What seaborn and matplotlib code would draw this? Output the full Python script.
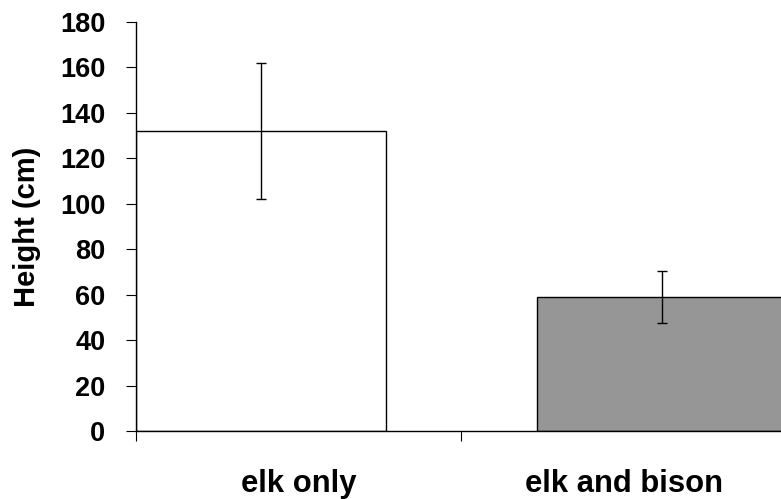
import matplotlib
matplotlib.use("Agg")
import matplotlib.pyplot as plt
import seaborn as sns
import pandas as pd

# Mean height per browsing treatment, with error half-widths
groups = ["elk only", "elk and bison"]
height_cm = [132, 59]
height_err = [30, 11.5]
bar_colors = ["#ffffff", "#969696"]

y_ticks = [0, 20, 40, 60, 80, 100, 120, 140, 160, 180]

sns.set_theme(style="white")
plt.rcParams["font.family"] = ["Liberation Sans", "DejaVu Sans"]
plt.rcParams["font.weight"] = "bold"
plt.rcParams["text.color"] = "black"
plt.rcParams["axes.labelcolor"] = "black"
plt.rcParams["xtick.color"] = "black"
plt.rcParams["ytick.color"] = "black"

df = pd.DataFrame({"group": groups, "height": height_cm})

fig = plt.figure(figsize=(7.81, 4.99), dpi=100)
# axes runs slightly past the right edge of the figure
ax = fig.add_axes([136 / 781, 68 / 499, 651 / 781, 409 / 499])

sns.barplot(data=df, x="group", y="height", order=groups, hue="group",
            palette=bar_colors, legend=False, width=0.6234,
            edgecolor="black", linewidth=1.0, errorbar=None, ax=ax)

ax.errorbar(x=range(len(groups)), y=height_cm, yerr=height_err, fmt="none",
            ecolor="black", elinewidth=1.0, capsize=3.5, capthick=1.0)

ax.set_ylim(0, 180)
ax.set_xlim(-0.3117, 1.3117)
ax.set_yticks(y_ticks)
ax.set_yticklabels([str(v) for v in y_ticks], fontsize=19.5, fontweight="bold",
                   color="black")

# category boundary ticks without labels; labels sit centred in each category
ax.set_xticks([-0.3117, 0.4988, 1.3092])
ax.set_xticklabels(["", "", ""])
ax.set_xticks([0.0948, 0.9052], minor=True)
ax.set_xticklabels(groups, minor=True, fontsize=22.3, fontweight="bold",
                   color="black")
ax.tick_params(axis="x", which="major", direction="out", length=7.2, width=0.8,
               color="black", bottom=True)
ax.tick_params(axis="x", which="minor", length=0, pad=27.5, bottom=True)
ax.tick_params(axis="y", direction="out", length=7, width=0.8, color="black",
               pad=15, left=True)

ax.set_xlabel("")
ax.set_ylabel("Height (cm)", fontsize=21, fontweight="bold", labelpad=14,
              color="black")

for side in ["top", "right"]:
    ax.spines[side].set_visible(False)
for side in ["left", "bottom"]:
    ax.spines[side].set_color("black")
    ax.spines[side].set_linewidth(1.0)

fig.savefig("out.png", dpi=100)
